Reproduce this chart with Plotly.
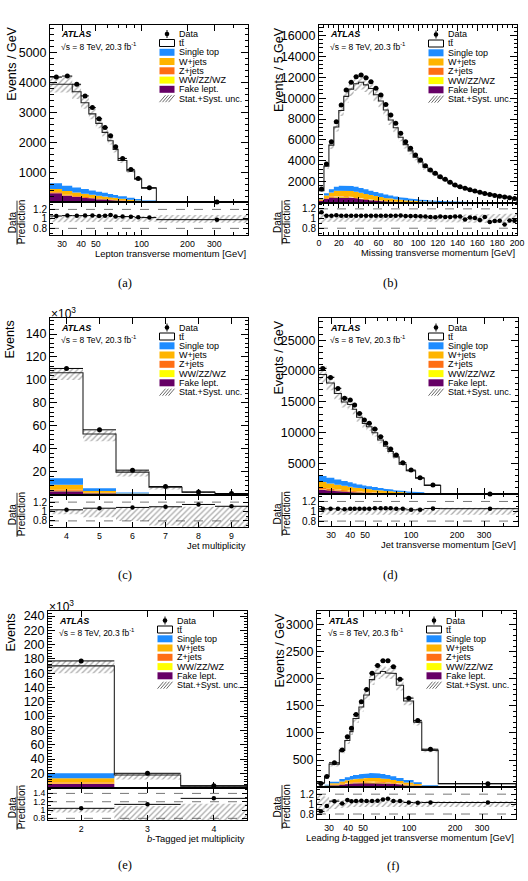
import math
import plotly.graph_objects as go

W, H = 528, 881
FONT = "Liberation Sans, Arial, Helvetica, sans-serif"
SERIF = "Liberation Serif, Times New Roman, serif"

C_ST = "#1e8cff"
C_W = "#ffb400"
C_Z = "#ff6e14"
C_VV = "#ffff00"
C_FAKE = "#660066"
COMP_COLORS = [C_FAKE, C_VV, C_Z, C_W, C_ST]

# ================= DATA =================
# (a) Lepton transverse momentum, events / GeV
a_edges = [25, 30, 35, 40, 45, 50, 55, 60, 65, 70, 80, 90, 100, 125, 500]
a_data = [4190, 4225, 3950, 3560, 3170, 2800, 2500, 2225, 1857, 1469, 1100, 800, 488, 6]
a_pred = [3950, 3950, 3700, 3330, 2960, 2640, 2340, 2060, 1770, 1400, 1050, 775, 475, 6.1]
a_singletop = [190, 180, 170, 158, 146, 134, 122, 110, 98, 84, 66, 48, 28, 0.5]
a_wjets = [110, 120, 115, 108, 100, 92, 84, 76, 68, 58, 44, 32, 18, 0.4]
a_zjets = [30, 28, 26, 23, 21, 19, 17, 15, 13, 11, 8, 6, 3, 0.1]
a_diboson = [6, 6, 6, 5, 5, 5, 4, 4, 4, 3, 3, 2, 1, 0.05]
a_fake = [300, 220, 180, 150, 125, 105, 90, 75, 62, 48, 32, 20, 10, 0.3]
a_unc = [0.07, 0.07, 0.065, 0.06, 0.06, 0.06, 0.06, 0.06, 0.06, 0.06, 0.06, 0.06, 0.06, 0.08]

# (b) Missing transverse momentum, events / 5 GeV
b_edges = [0, 5, 10, 15, 20, 25, 30, 35, 40, 45, 50, 55, 60, 65, 70, 75, 80, 85, 90, 95, 100,
           105, 110, 115, 120, 125, 130, 135, 140, 145, 150, 155, 160, 165, 170, 175, 180, 185, 190, 195, 200]
b_data = [1300, 3700, 5830, 7740, 9340, 10780, 11510, 12050, 12210, 11950, 11570, 10940, 10300, 9400,
          8380, 7590, 6630, 5830, 5200, 4560, 4080, 3530, 3120, 2800, 2480, 2230, 1940, 1680, 1520, 1370,
          1230, 1100, 980, 870, 780, 690, 610, 540, 470, 400]
b_pred = [1150, 3490, 5500, 7230, 8810, 10170, 10860, 11370, 11520, 11270, 10920, 10320, 9720, 8870,
          7910, 7160, 6250, 5550, 4950, 4340, 3890, 3390, 3030, 2720, 2380, 2165, 1880, 1615, 1460, 1400,
          1205, 1090, 1010, 845, 840, 725, 640, 615, 490, 420]
b_singletop = [80, 200, 310, 390, 440, 470, 480, 475, 460, 440, 415, 385, 355, 325, 295, 265, 238, 212, 188, 166,
               147, 130, 114, 100, 88, 77, 68, 60, 53, 47, 41, 36, 32, 28, 25, 22, 19, 17, 15, 13]
b_wjets = [100, 240, 380, 480, 540, 570, 575, 560, 530, 490, 445, 400, 355, 310, 270, 235, 200, 172, 148, 126,
           108, 92, 78, 67, 57, 49, 42, 36, 31, 27, 23, 20, 17, 15, 13, 11, 10, 9, 8, 7]
b_zjets = [60, 90, 95, 85, 72, 60, 50, 42, 35, 29, 24, 20, 16, 13, 11, 9, 7, 6, 5, 4,
           3, 3, 2, 2, 2, 1, 1, 1, 1, 1, 1, 1, 0, 0, 0, 0, 0, 0, 0, 0]
b_diboson = [5, 10, 15, 18, 20, 20, 20, 19, 18, 17, 15, 14, 12, 11, 10, 9, 8, 7, 6, 6,
             5, 5, 4, 4, 3, 3, 3, 2, 2, 2, 2, 2, 1, 1, 1, 1, 1, 1, 1, 1]
b_fake = [150, 350, 480, 540, 550, 520, 470, 410, 350, 290, 235, 190, 150, 118, 92, 72, 56, 44, 34, 27,
          21, 16, 12, 9, 7, 5, 4, 3, 2, 2, 1, 1, 1, 1, 0, 0, 0, 0, 0, 0]
b_unc = [0.1, 0.07, 0.065, 0.06, 0.06, 0.06, 0.06, 0.06, 0.06, 0.06, 0.06, 0.06, 0.06, 0.06, 0.06, 0.06,
         0.06, 0.065, 0.065, 0.065, 0.07, 0.07, 0.07, 0.07, 0.075, 0.075, 0.075, 0.08, 0.08, 0.08, 0.085,
         0.085, 0.09, 0.09, 0.09, 0.095, 0.095, 0.1, 0.1, 0.1]

# (c) Jet multiplicity, events (x10^3)
c_edges = [3.5, 4.5, 5.5, 6.5, 7.5, 8.5, 9.5]
c_data = [110.0, 56.5, 21.3, 7.0, 2.3, 0.9]
c_pred = [106.2, 52.8, 19.6, 6.36, 2.0, 0.81]
c_singletop = [5.8, 2.3, 0.75, 0.22, 0.07, 0.02]
c_wjets = [4.2, 1.5, 0.5, 0.15, 0.05, 0.015]
c_zjets = [1.0, 0.4, 0.13, 0.04, 0.012, 0.004]
c_diboson = [0.3, 0.1, 0.03, 0.01, 0.003, 0.001]
c_fake = [3.0, 1.2, 0.4, 0.12, 0.04, 0.01]
c_unc_up = [0.04, 0.06, 0.08, 0.1, 0.1, 0.1]
c_unc_dn = [0.06, 0.12, 0.2, 0.3, 0.35, 0.35]

# (d) Jet transverse momentum, events / GeV
d_edges = [25, 28, 31.5, 35, 38.5, 41.5, 44, 48, 51, 55.5, 60.5, 66, 70.5, 76.5, 83.5, 93, 107, 122, 156, 500]
d_data = [20400, 18950, 17170, 15550, 15270, 14460, 13110, 12030, 11490, 10570, 9320, 8250, 7320, 6350,
          5100, 3910, 2660, 1480, 10]
d_pred = [19430, 18050, 16350, 14950, 14540, 13770, 12490, 11460, 10940, 9970, 8790, 7780, 6910, 6050,
          4860, 3800, 2580, 1400, 9.5]
d_singletop = [1000, 920, 840, 770, 710, 655, 600, 550, 500, 452, 403, 357, 315, 272, 225, 176, 126, 70, 0.6]
d_wjets = [950, 860, 780, 710, 650, 595, 545, 495, 450, 405, 360, 318, 280, 240, 198, 155, 110, 60, 0.5]
d_zjets = [250, 220, 195, 175, 158, 142, 128, 115, 103, 92, 80, 70, 61, 52, 42, 32, 22, 11, 0.1]
d_diboson = [50, 45, 40, 36, 33, 30, 27, 24, 21, 19, 16, 14, 12, 10, 8, 6, 4, 2, 0.05]
d_fake = [700, 600, 500, 420, 360, 310, 270, 230, 195, 165, 135, 110, 90, 70, 50, 33, 20, 9, 0.1]
d_unc = [0.07, 0.065, 0.06, 0.06, 0.06, 0.06, 0.06, 0.06, 0.06, 0.06, 0.06, 0.06, 0.06, 0.06, 0.06,
         0.06, 0.06, 0.06, 0.07]

# (e) b-tagged jet multiplicity, events (x10^3)
e_edges = [1.5, 2.5, 3.5, 4.5]
e_data = [177.2, 20.0, 2.6]
e_pred = [170.2, 17.6, 2.03]
e_singletop = [6.8, 0.45, 0.05]
e_wjets = [6.0, 0.25, 0.03]
e_zjets = [1.6, 0.07, 0.01]
e_diboson = [0.6, 0.02, 0.003]
e_fake = [5.0, 0.2, 0.02]
e_unc_up = [0.04, 0.1, 0.15]
e_unc_dn = [0.06, 0.35, 0.4]

# (f) Leading b-tagged jet transverse momentum, events / GeV
f_edges = [25, 28, 30, 35, 38, 41, 43, 47, 50.5, 55, 59.5, 65, 70, 75.5, 82.5, 92, 107, 121, 155, 500]
f_data = [70, 195, 450, 685, 930, 1085, 1340, 1575, 1800, 2100, 2240, 2330, 2330, 2220, 1990, 1640, 1230, 700, 65]
f_pred = [82, 203, 425, 678, 861, 1024, 1264, 1476, 1698, 1981, 2099, 2132, 2105, 2094, 1877, 1588, 1198, 678, 63]
f_singletop = [6, 12, 30, 45, 57, 65, 72, 77, 82, 85, 84, 80, 75, 68, 58, 46, 32, 16, 0.5]
f_wjets = [5, 10, 25, 38, 48, 55, 60, 64, 67, 70, 68, 65, 60, 54, 46, 36, 25, 12, 0.4]
f_zjets = [2, 4, 8, 11, 12, 13, 14, 15, 15, 16, 15, 14, 13, 12, 10, 8, 5, 2, 0.1]
f_diboson = [1, 2, 4, 5, 6, 6, 7, 7, 7, 8, 7, 7, 6, 6, 5, 4, 3, 1, 0.05]
f_fake = [8, 15, 35, 50, 60, 66, 72, 76, 80, 82, 80, 76, 70, 62, 52, 38, 25, 10, 0.3]
f_unc = [0.2, 0.15, 0.1, 0.08, 0.07, 0.06, 0.06, 0.055, 0.05, 0.05, 0.05, 0.05, 0.05, 0.05, 0.05,
         0.05, 0.05, 0.05, 0.06]

# tick labels
log_ticks = [30, 40, 50, 100, 200, 300]
log_minor = [60, 70, 80, 90, 400]

legend_labels = ["Data", "tt\u0304", "Single top", "W+jets", "Z+jets", "WW/ZZ/WZ", "Fake lept.", "Stat.+Syst. unc."]

# ================= PANELS =================
panels = [
    dict(tag="(a)", geo=(50, 248, 24.5, 202.3, 235), cap=(125, 283),
         edges=a_edges, data=a_data, pred=a_pred,
         comps=[a_fake, a_diboson, a_zjets, a_wjets, a_singletop], up=a_unc, dn=a_unc,
         log=True, xr=[25, 500], xt=log_ticks, xminor=log_minor,
         yr=[0, 5950], yt=[1000, 2000, 3000, 4000, 5000], ymin=200,
         rr=[0.66, 1.35], rt=[0.8, 1, 1.2], rlines=[0.8, 1.2], rfont=10,
         ytitle="Events / GeV", ytx=11.7, xtitle="Lepton transverse momentum [GeV]", x1e3=False),
    dict(tag="(b)", geo=(319, 517, 25, 202.6, 234.5), cap=(390.7, 283),
         edges=b_edges, data=b_data, pred=b_pred,
         comps=[b_fake, b_diboson, b_zjets, b_wjets, b_singletop], up=b_unc, dn=b_unc,
         log=False, xr=[0, 200], xt=[0, 20, 40, 60, 80, 100, 120, 140, 160, 180, 200], xdminor=5,
         yr=[0, 17000], yt=[2000, 4000, 6000, 8000, 10000, 12000, 14000, 16000], ymin=400,
         rr=[0.67, 1.33], rt=[0.8, 1, 1.2], rlines=[0.8, 1.2], rfont=10,
         ytitle="Events / 5 GeV", ytx=279, xtitle="Missing transverse momentum [GeV]", x1e3=False),
    dict(tag="(c)", geo=(50, 248, 318, 494.6, 527), cap=(125, 575),
         edges=c_edges, data=c_data, pred=c_pred,
         comps=[c_fake, c_diboson, c_zjets, c_wjets, c_singletop], up=c_unc_up, dn=c_unc_dn,
         log=False, xr=[3.5, 9.5], xt=[4, 5, 6, 7, 8, 9], xdminor=None,
         yr=[0, 154], yt=[20, 40, 60, 80, 100, 120, 140], ymin=4,
         rr=[0.67, 1.36], rt=[0.8, 1, 1.2], rlines=[0.8, 1.2], rfont=10,
         ytitle="Events", ytx=10, xtitle="Jet multiplicity", x1e3=True),
    dict(tag="(d)", geo=(319, 518, 318, 494.1, 526), cap=(390.7, 575),
         edges=d_edges, data=d_data, pred=d_pred,
         comps=[d_fake, d_diboson, d_zjets, d_wjets, d_singletop], up=d_unc, dn=d_unc,
         log=True, xr=[25, 500], xt=log_ticks, xminor=log_minor,
         yr=[0, 28600], yt=[5000, 10000, 15000, 20000, 25000], ymin=1000,
         rr=[0.7, 1.35], rt=[0.8, 1, 1.2], rlines=[0.8, 1.2], rfont=10,
         ytitle="Events / GeV", ytx=279, xtitle="Jet transverse momentum [GeV]", x1e3=False),
    dict(tag="(e)", geo=(48, 247, 611, 787.6, 820), cap=(125, 865),
         edges=e_edges, data=e_data, pred=e_pred,
         comps=[e_fake, e_diboson, e_zjets, e_wjets, e_singletop], up=e_unc_up, dn=e_unc_dn,
         log=False, xr=[1.5, 4.5], xt=[2, 3, 4], xdminor=None,
         yr=[0, 247], yt=[20, 40, 60, 80, 100, 120, 140, 160, 180, 200, 220, 240], ymin=4,
         rr=[0.76, 1.54], rt=[0.8, 1, 1.2, 1.4], rlines=[0.8, 1.2, 1.4], rfont=8.6,
         ytitle="Events", ytx=10, xtitle="<i>b</i>-Tagged jet multiplicity", x1e3=True),
    dict(tag="(f)", geo=(317, 516, 611, 787.2, 819), cap=(393, 866),
         edges=f_edges, data=f_data, pred=f_pred,
         comps=[f_fake, f_diboson, f_zjets, f_wjets, f_singletop], up=f_unc, dn=f_unc,
         log=True, xr=[25, 500], xt=log_ticks, xminor=log_minor,
         yr=[0, 3245], yt=[500, 1000, 1500, 2000, 2500, 3000], ymin=100,
         rr=[0.7, 1.34], rt=[0.8, 1, 1.2], rlines=[0.8, 1.2], rfont=10,
         ytitle="Events / GeV", ytx=279, xtitle="Leading <i>b</i>-tagged jet transverse momentum [GeV]", x1e3=False),
]


def PX(x):
    return x / W


def PY(y):
    return 1 - y / H


def ref(kind, n):
    return kind if n == 1 else f"{kind}{n}"


def axname(kind, n):
    return f"{kind}axis" if n == 1 else f"{kind}axis{n}"


def step_xy(edges, vals):
    xs, ys = [], []
    for k, v in enumerate(vals):
        xs += [edges[k], edges[k + 1]]
        ys += [v, v]
    return xs, ys


def band_poly(edges, lo, hi):
    x1, y1 = step_xy(edges, hi)
    x2, y2 = step_xy(edges, lo)
    return x1 + x2[::-1], y1 + y2[::-1]


def fmt(v):
    if abs(v - round(v)) < 1e-9:
        return str(int(round(v)))
    return f"{v:g}"


HATCH = dict(shape="/", fgcolor="#555555", bgcolor="rgba(0,0,0,0)", size=4, solidity=0.32)

fig = go.Figure()
shapes = []
annos = []
lay = {}

for i, p in enumerate(panels):
    nm, nr = 2 * i + 1, 2 * i + 2
    xm, ym, xrr, yrr = ref("x", nm), ref("y", nm), ref("x", nr), ref("y", nr)
    L, R, T, M, B = p["geo"]
    edges = p["edges"]
    data, pred = p["data"], p["pred"]
    n = len(data)
    centers = [(edges[k] + edges[k + 1]) / 2 for k in range(n)]
    eplus = [edges[k + 1] - centers[k] for k in range(n)]
    eminus = [centers[k] - edges[k] for k in range(n)]

    # stacked backgrounds
    base = [0.0] * n
    for comp, col in zip(p["comps"], COMP_COLORS):
        top = [base[k] + comp[k] for k in range(n)]
        xs, ys = band_poly(edges, base, top)
        fig.add_trace(go.Scatter(x=xs, y=ys, mode="lines", line=dict(width=0), fill="toself",
                                 fillcolor=col, xaxis=xm, yaxis=ym, hoverinfo="skip"))
        base = top

    # uncertainty band (main)
    lo = [pred[k] * (1 - p["dn"][k]) for k in range(n)]
    hi = [pred[k] * (1 + p["up"][k]) for k in range(n)]
    xs, ys = band_poly(edges, lo, hi)
    fig.add_trace(go.Scatter(x=xs, y=ys, mode="lines", line=dict(width=0), fill="toself",
                             fillcolor="rgba(0,0,0,0)", fillpattern=HATCH,
                             xaxis=xm, yaxis=ym, hoverinfo="skip"))

    # total prediction outline
    xs, ys = step_xy(edges, pred)
    xs = xs + [edges[-1]]
    ys = ys + [0]
    fig.add_trace(go.Scatter(x=xs, y=ys, mode="lines", line=dict(color="#222222", width=1.1),
                             xaxis=xm, yaxis=ym, hoverinfo="skip"))

    # data
    fig.add_trace(go.Scatter(x=centers, y=data, mode="markers",
                             marker=dict(color="black", size=5),
                             error_x=dict(type="data", symmetric=False, array=eplus, arrayminus=eminus,
                                          color="black", thickness=1, width=0),
                             xaxis=xm, yaxis=ym, cliponaxis=False, hoverinfo="skip"))

    # ratio band
    rlo = [1 - v for v in p["dn"]]
    rhi = [1 + v for v in p["up"]]
    xs, ys = band_poly(edges, rlo, rhi)
    fig.add_trace(go.Scatter(x=xs, y=ys, mode="lines", line=dict(width=0), fill="toself",
                             fillcolor="rgba(0,0,0,0)", fillpattern=HATCH,
                             xaxis=xrr, yaxis=yrr, hoverinfo="skip"))
    ratio = [data[k] / pred[k] for k in range(n)]
    fig.add_trace(go.Scatter(x=centers, y=ratio, mode="markers",
                             marker=dict(color="black", size=4.5),
                             error_x=dict(type="data", symmetric=False, array=eplus, arrayminus=eminus,
                                          color="black", thickness=1, width=0),
                             xaxis=xrr, yaxis=yrr, hoverinfo="skip"))

    for yl in p["rlines"]:
        shapes.append(dict(type="line", xref=f"{xrr} domain", x0=0, x1=1, yref=yrr, y0=yl, y1=yl,
                           line=dict(color="#555555", width=0.8, dash="dash"), layer="below"))

    # axes
    common = dict(showline=True, linecolor="black", linewidth=1, mirror="allticks", ticks="inside",
                  tickcolor="black", showgrid=False, zeroline=False, automargin=False,
                  tickfont=dict(family=FONT, color="black"))
    xdom = [PX(L), PX(R)]
    if p["log"]:
        xrange = [math.log10(p["xr"][0]), math.log10(p["xr"][1])]
        xminor = dict(ticks="inside", ticklen=3, tickcolor="black", tickmode="array", tickvals=p["xminor"])
        xtype = "log"
    else:
        xrange = p["xr"]
        xtype = "linear"
        if p.get("xdminor"):
            xminor = dict(ticks="inside", ticklen=3, tickcolor="black", dtick=p["xdminor"], tick0=0)
        else:
            xminor = None
    xm_cfg = dict(common, domain=xdom, anchor=ym, type=xtype, range=xrange, tickmode="array",
                  tickvals=p["xt"], showticklabels=False, ticklen=6)
    xr_cfg = dict(common, domain=xdom, anchor=yrr, type=xtype, range=xrange, tickmode="array",
                  tickvals=p["xt"], ticktext=[fmt(v) for v in p["xt"]], ticklen=5)
    xr_cfg["tickfont"] = dict(family=FONT, color="black", size=8.8)
    if xminor:
        xm_cfg["minor"] = xminor
        xr_cfg["minor"] = xminor
    ym_cfg = dict(common, domain=[PY(M), PY(T)], anchor=xm, range=p["yr"], tickmode="array",
                  tickvals=p["yt"], ticktext=[fmt(v) for v in p["yt"]], ticklen=7,
                  minor=dict(ticks="inside", ticklen=3.5, tickcolor="black", dtick=p["ymin"], tick0=0))
    ym_cfg["tickfont"] = dict(family=FONT, color="black", size=12.5)
    yr_cfg = dict(common, domain=[PY(B), PY(M)], anchor=xrr, range=p["rr"], tickmode="array",
                  tickvals=p["rt"], ticktext=[fmt(v) for v in p["rt"]], ticklen=5,
                  minor=dict(ticks="inside", ticklen=2.5, tickcolor="black", dtick=0.1, tick0=0))
    yr_cfg["tickfont"] = dict(family=FONT, color="black", size=p["rfont"])
    lay[axname("x", nm)] = xm_cfg
    lay[axname("x", nr)] = xr_cfg
    lay[axname("y", nm)] = ym_cfg
    lay[axname("y", nr)] = yr_cfg

    # texts: ATLAS label
    annos.append(dict(xref="paper", yref="paper", x=PX(L + 8.5), y=PY(T + 9.5), xanchor="left", yanchor="middle",
                      text="<b><i>ATLAS</i></b>", showarrow=False, font=dict(family=FONT, size=9, color="black")))
    annos.append(dict(xref="paper", yref="paper", x=PX(L + 8.5), y=PY(T + 21.8), xanchor="left", yanchor="middle",
                      text="\u221as = 8 TeV, 20.3 fb<sup>-1</sup>", showarrow=False,
                      font=dict(family=FONT, size=8.5, color="black")))
    # legend
    rows = [9.5, 18.5, 27.8, 37.0, 46.3, 55.6, 64.8, 74.2]
    bx0, bx1 = L + 109.5, L + 124.5
    kinds = ["data", "tt", C_ST, C_W, C_Z, C_VV, C_FAKE, "hatch"]
    for lab, kind, dy in zip(legend_labels, kinds, rows):
        yc = T + dy
        annos.append(dict(xref="paper", yref="paper", x=PX(L + 127), y=PY(yc), xanchor="left", yanchor="middle",
                          text=lab, showarrow=False, font=dict(family=FONT, size=9, color="black")))
        if kind == "data":
            cx = (bx0 + bx1) / 2
            shapes.append(dict(type="line", xref="paper", yref="paper", x0=PX(cx), x1=PX(cx),
                               y0=PY(yc - 4), y1=PY(yc + 4), line=dict(color="black", width=1)))
            shapes.append(dict(type="circle", xref="paper", yref="paper", x0=PX(cx - 2.3), x1=PX(cx + 2.3),
                               y0=PY(yc + 2.3), y1=PY(yc - 2.3), fillcolor="black", line=dict(width=0)))
        elif kind == "tt":
            shapes.append(dict(type="rect", xref="paper", yref="paper", x0=PX(bx0), x1=PX(bx1),
                               y0=PY(yc + 3.5), y1=PY(yc - 3.5), fillcolor="white",
                               line=dict(color="black", width=1)))
        elif kind == "hatch":
            for k in range(4):
                xa = bx0 + k * 3
                shapes.append(dict(type="line", xref="paper", yref="paper", x0=PX(xa), x1=PX(xa + 6),
                                   y0=PY(yc + 3.5), y1=PY(yc - 3.5), line=dict(color="#6a6a6a", width=1)))
        else:
            shapes.append(dict(type="rect", xref="paper", yref="paper", x0=PX(bx0), x1=PX(bx1),
                               y0=PY(yc + 3.5), y1=PY(yc - 3.5), fillcolor=kind, line=dict(width=0)))

    # y title
    annos.append(dict(xref="paper", yref="paper", x=PX(p["ytx"]), y=PY(T + 0.5), xanchor="center", yanchor="top",
                      text=p["ytitle"], textangle=-90, showarrow=False,
                      font=dict(family=FONT, size=12.5, color="black")))
    # ratio title
    left_col = L < 100
    xd, xl, xp = (12.5, 17, 21.5) if left_col else (277.5, 282, 286.5)
    yc = (M + B) / 2 + 4
    annos.append(dict(xref="paper", yref="paper", x=PX(xd), y=PY(yc), xanchor="center", yanchor="middle",
                      text="Data", textangle=-90, showarrow=False, font=dict(family=FONT, size=10, color="black")))
    annos.append(dict(xref="paper", yref="paper", x=PX(xp), y=PY(yc), xanchor="center", yanchor="middle",
                      text="Prediction", textangle=-90, showarrow=False,
                      font=dict(family=FONT, size=10, color="black")))
    shapes.append(dict(type="line", xref="paper", yref="paper", x0=PX(xl), x1=PX(xl), y0=PY(yc - 22),
                       y1=PY(yc + 22), line=dict(color="black", width=0.8)))
    # x title
    annos.append(dict(xref="paper", yref="paper", x=PX(R), y=PY(B + 18), xanchor="right", yanchor="middle",
                      text=p["xtitle"], showarrow=False, font=dict(family=FONT, size=9.4, color="black")))
    # x10^3
    if p["x1e3"]:
        annos.append(dict(xref="paper", yref="paper", x=PX(L - 1), y=PY(T - 5), xanchor="left", yanchor="middle",
                          text="\u00d710<sup>3</sup>", showarrow=False,
                          font=dict(family=FONT, size=12, color="black")))
    # caption
    annos.append(dict(xref="paper", yref="paper", x=PX(p["cap"][0]), y=PY(p["cap"][1]), xanchor="center",
                      yanchor="middle", text=p["tag"], showarrow=False,
                      font=dict(family=SERIF, size=12.5, color="black")))

fig.update_layout(width=W, height=H, autosize=False, margin=dict(l=0, r=0, t=0, b=0, pad=0),
                  paper_bgcolor="white", plot_bgcolor="white", showlegend=False,
                  shapes=shapes, annotations=annos, font=dict(family=FONT, color="black"), **lay)

fig.write_html("out.html", config={"displayModeBar": False, "staticPlot": True},
               post_script="document.body.style.margin='0';document.body.style.padding='0';"
                           "document.documentElement.style.overflow='hidden';")
